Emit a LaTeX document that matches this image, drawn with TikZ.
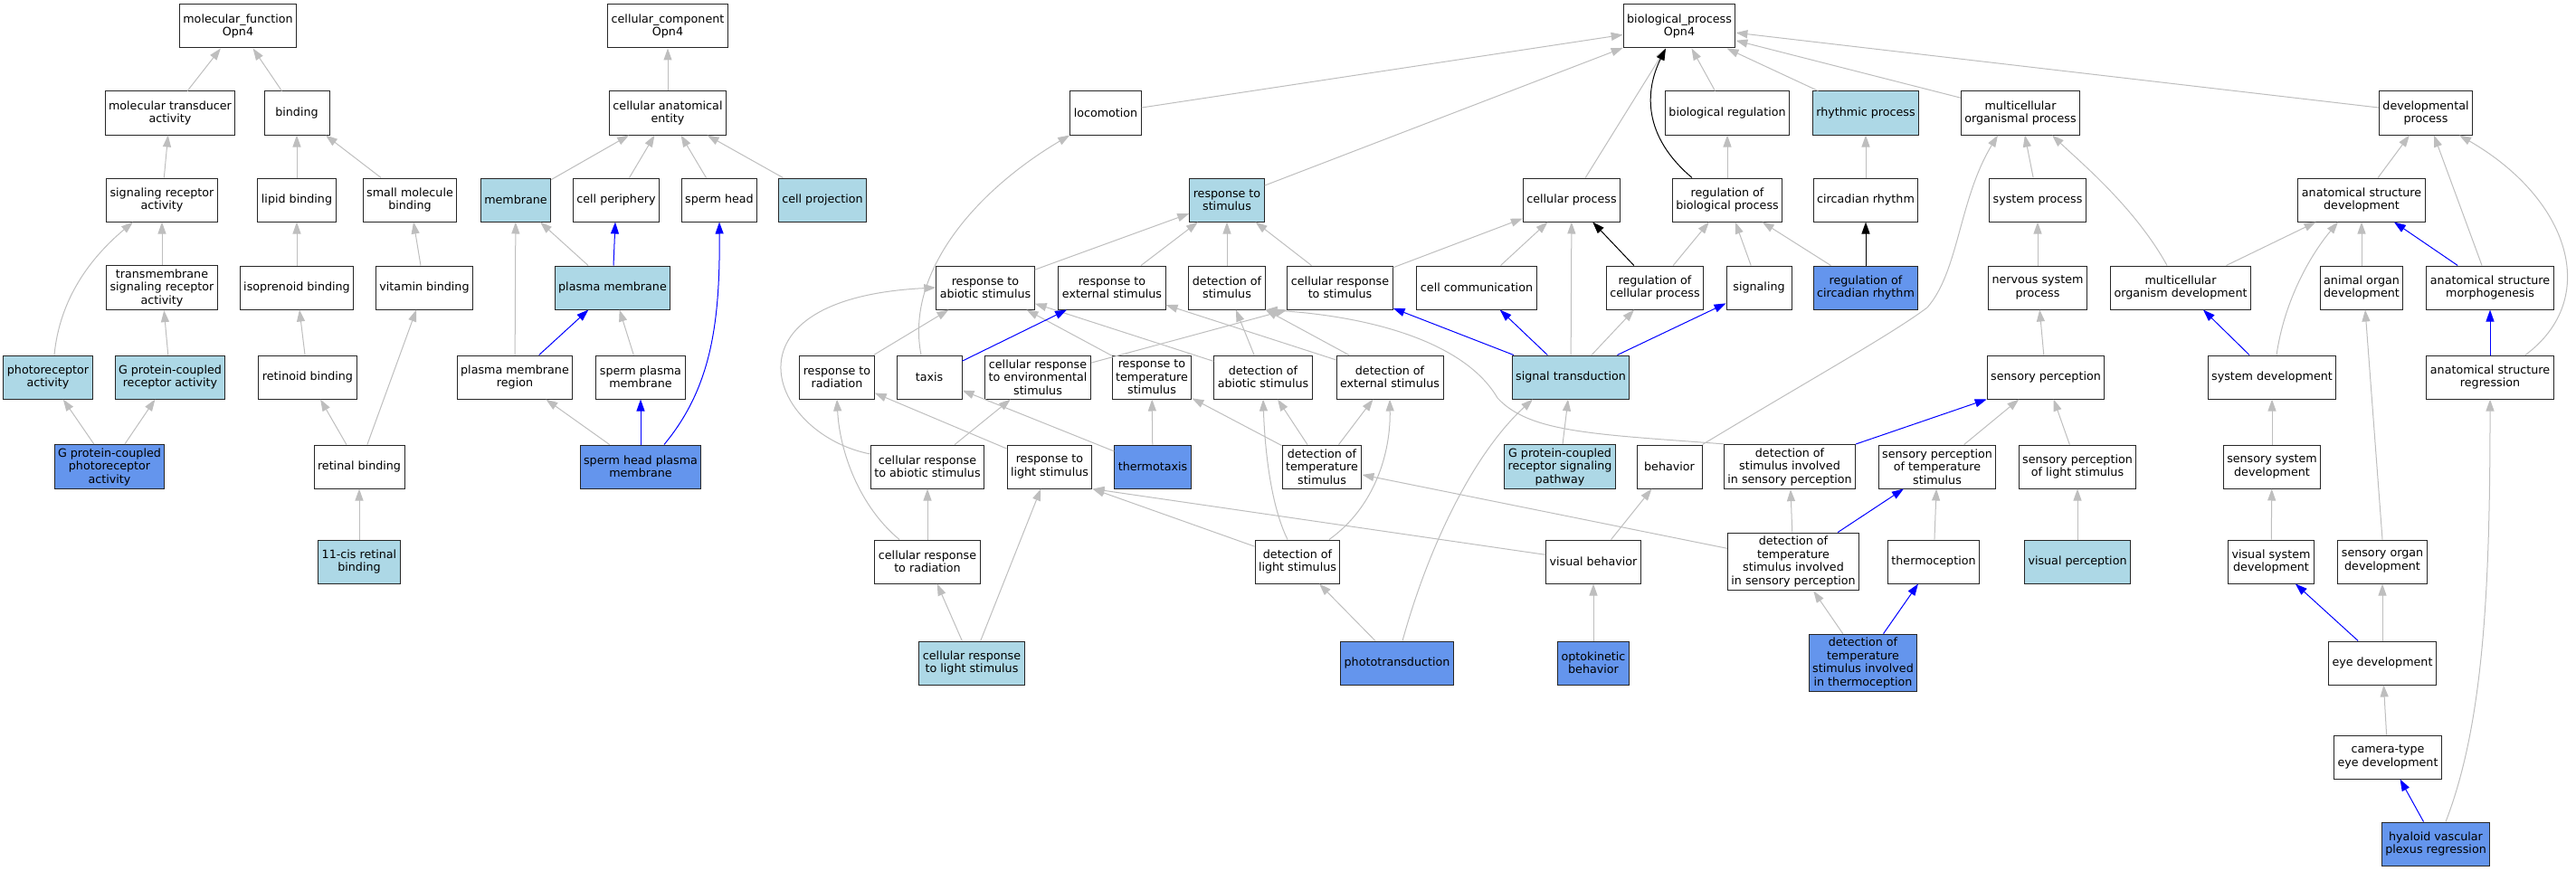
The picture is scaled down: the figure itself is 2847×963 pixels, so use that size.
\documentclass[tikz,border=0pt]{standalone}
\usepackage{fontspec}
\setmainfont{DejaVu Sans}
\usepackage{tikz}
\usetikzlibrary{arrows.meta}

\definecolor{litblue}{HTML}{ADD8E6}
\definecolor{leafblue}{HTML}{6495ED}
\definecolor{isagray}{HTML}{BEBEBE}

\begin{document}
\begin{tikzpicture}[%
    x=1pt,
    y=-1pt,
    ->,
    >={Triangle[length=13pt,width=9pt]},
    term/.style={%
      rectangle,
      draw=black!85,
      line width=1pt,
      fill=white,
      minimum width=72pt,
      minimum height=48pt,
      inner xsep=4pt,
      inner ysep=4pt,
      align=center,
      font=\fontsize{12.7}{14.5}\selectfont
    },
    lit/.style={term, fill=litblue},
    leaf/.style={term, fill=leafblue},
    isa/.style={draw=isagray, line width=1pt},
    partof/.style={draw=blue, line width=1pt},
    regulates/.style={draw=black, line width=1pt}
  ]
  \useasboundingbox (0,0) rectangle (2847,963);
  % Nodes: molecular function
    \node[term] (mf)       at (263,29)  {molecular\_function\\Opn4};
    \node[term] (mta)      at (188,125) {molecular transducer\\activity};
    \node[term] (bind)     at (328,125) {binding};
    \node[term] (sra)      at (179,221) {signaling receptor\\activity};
    \node[term] (lipid)    at (328,221) {lipid binding};
    \node[term] (smb)      at (453,221) {small molecule\\binding};
    \node[term] (tmsra)    at (179,318) {transmembrane\\signaling receptor\\activity};
    \node[term] (isop)     at (328,318) {isoprenoid binding};
    \node[term] (vitb)     at (469,318) {vitamin binding};
    \node[lit]  (photo)    at (53,417)  {photoreceptor\\activity};
    \node[lit]  (gpcra)    at (188,417) {G protein-coupled\\receptor activity};
    \node[term] (retinoid) at (340,417) {retinoid binding};
    \node[leaf] (gpcpa)    at (121,516) {G protein-coupled\\photoreceptor\\activity};
    \node[term] (retinal)  at (397,516) {retinal binding};
    \node[lit]  (cis)      at (397,621) {11-cis retinal\\binding};
  % Nodes: cellular component
    \node[term] (cc)        at (738,29)  {cellular\_component\\Opn4};
    \node[term] (cae)       at (738,125) {cellular anatomical\\entity};
    \node[lit]  (membrane)  at (570,221) {membrane};
    \node[term] (cellper)   at (681,221) {cell periphery};
    \node[term] (spermhead) at (795,221) {sperm head};
    \node[lit]  (cellproj)  at (909,221) {cell projection};
    \node[lit]  (pm)        at (677,318) {plasma membrane};
    \node[term] (pmr)       at (569,417) {plasma membrane\\region};
    \node[term] (spm)       at (708,417) {sperm plasma\\membrane};
    \node[leaf] (shpm)      at (708,516) {sperm head plasma\\membrane};
  % Nodes: biological process
    \node[term] (bp)         at (1856,29)  {biological\_process\\Opn4};
    \node[term] (loco)       at (1222,125) {locomotion};
    \node[term] (bioreg)     at (1909,125) {biological regulation};
    \node[lit]  (rhythm)     at (2062,125) {rhythmic process};
    \node[term] (mop)        at (2233,125) {multicellular\\organismal process};
    \node[term] (devproc)    at (2681,125) {developmental\\process};
    \node[lit]  (respstim)   at (1356,221) {response to\\stimulus};
    \node[term] (cellproc)   at (1737,221) {cellular process};
    \node[term] (regbp)      at (1909,221) {regulation of\\biological process};
    \node[term] (circ)       at (2062,221) {circadian rhythm};
    \node[term] (sysproc)    at (2252,221) {system process};
    \node[term] (asd)        at (2610,221) {anatomical structure\\development};
    \node[term] (rabio)      at (1089,318) {response to\\abiotic stimulus};
    \node[term] (rext)       at (1229,318) {response to\\external stimulus};
    \node[term] (detstim)    at (1356,318) {detection of\\stimulus};
    \node[term] (crstim)     at (1481,318) {cellular response\\to stimulus};
    \node[term] (cellcomm)   at (1632,318) {cell communication};
    \node[term] (regcp)      at (1829,318) {regulation of\\cellular process};
    \node[term] (signaling)  at (1944,318) {signaling};
    \node[leaf] (regcirc)    at (2062,318) {regulation of\\circadian rhythm};
    \node[term] (nsp)        at (2252,318) {nervous system\\process};
    \node[term] (mod)        at (2410,318) {multicellular\\organism development};
    \node[term] (aod)        at (2610,318) {animal organ\\development};
    \node[term] (asm)        at (2752,318) {anatomical structure\\morphogenesis};
    \node[term] (rrad)       at (925,417)  {response to\\radiation};
    \node[term] (taxis)      at (1027,417) {taxis};
    \node[term] (crenv)      at (1147,417) {cellular response\\to environmental\\stimulus};
    \node[term] (rtemp)      at (1273,417) {response to\\temperature\\stimulus};
    \node[term] (detabio)    at (1396,417) {detection of\\abiotic stimulus};
    \node[term] (detext)     at (1536,417) {detection of\\external stimulus};
    \node[lit]  (sigtrans)   at (1736,417) {signal transduction};
    \node[term] (sensperc)   at (2261,417) {sensory perception};
    \node[term] (sysdev)     at (2511,417) {system development};
    \node[term] (asr)        at (2752,417) {anatomical structure\\regression};
    \node[term] (crabio)     at (1025,516) {cellular response\\to abiotic stimulus};
    \node[term] (rlight)     at (1160,516) {response to\\light stimulus};
    \node[leaf] (thermotaxis) at (1274,516) {thermotaxis};
    \node[term] (dettemp)    at (1461,516) {detection of\\temperature\\stimulus};
    \node[lit]  (gpcrsp)     at (1724,516) {G protein-coupled\\receptor signaling\\pathway};
    \node[term] (behavior)   at (1845,516) {behavior};
    \node[term] (dsisp)      at (1978,516) {detection of\\stimulus involved\\in sensory perception};
    \node[term] (sptemp)     at (2141,516) {sensory perception\\of temperature\\stimulus};
    \node[term] (splight)    at (2296,516) {sensory perception\\of light stimulus};
    \node[term] (ssd)        at (2511,516) {sensory system\\development};
    \node[term] (crrad)      at (1025,621) {cellular response\\to radiation};
    \node[term] (detlight)   at (1434,621) {detection of\\light stimulus};
    \node[term] (visbeh)     at (1761,621) {visual behavior};
    \node[term] (dtsisp)     at (1982,621) {detection of\\temperature\\stimulus involved\\in sensory perception};
    \node[term] (thermocep)  at (2137,621) {thermoception};
    \node[lit]  (visperc)    at (2296,621) {visual perception};
    \node[term] (vsd)        at (2510,621) {visual system\\development};
    \node[term] (sod)        at (2633,621) {sensory organ\\development};
    \node[lit]  (crlight)    at (1074,733) {cellular response\\to light stimulus};
    \node[leaf] (phototrans) at (1544,733) {phototransduction};
    \node[leaf] (okb)        at (1761,733) {optokinetic\\behavior};
    \node[leaf] (dtsit)      at (2059,733) {detection of\\temperature\\stimulus involved\\in thermoception};
    \node[term] (eyedev)     at (2633,733) {eye development};
    \node[term] (camera)     at (2639,837) {camera-type\\eye development};
    \node[leaf] (hyaloid)    at (2692,933) {hyaloid vascular\\plexus regression};
  % Paths: is_a
    \path (mta)      edge[isa] (mf)
          (bind)     edge[isa] (mf)
          (sra)      edge[isa] (mta)
          (lipid)    edge[isa] (bind)
          (smb)      edge[isa] (bind)
          (tmsra)    edge[isa] (sra)
          (gpcra)    edge[isa] (tmsra)
          (isop)     edge[isa] (lipid)
          (vitb)     edge[isa] (smb)
          (retinoid) edge[isa] (isop)
          (gpcpa)    edge[isa] (photo)
          (gpcpa)    edge[isa] (gpcra)
          (retinal)  edge[isa] (retinoid)
          (retinal)  edge[isa] (vitb)
          (cis)      edge[isa] (retinal);
    \draw[isa] ([xshift=7pt]photo.north) .. controls (66,330) and (100,285) .. ([xshift=-32pt]sra.south);
    \path (cae)       edge[isa] (cc)
          (membrane)  edge[isa] (cae)
          (cellper)   edge[isa] (cae)
          (spermhead) edge[isa] (cae)
          (cellproj)  edge[isa] (cae)
          (pm)        edge[isa] (membrane)
          (pmr)       edge[isa] (membrane)
          (spm)       edge[isa] (pm)
          (shpm)      edge[isa] (pmr);
    \path (loco)      edge[isa] (bp)
          (respstim)  edge[isa] (bp)
          (cellproc)  edge[isa] ([xshift=-15pt]bp.south)
          (bioreg)    edge[isa] (bp)
          (rhythm)    edge[isa] (bp)
          (mop)       edge[isa] (bp)
          (devproc)   edge[isa] (bp)
          (regbp)     edge[isa] (bioreg)
          (circ)      edge[isa] (rhythm)
          (sysproc)   edge[isa] (mop)
          (asd)       edge[isa] (devproc)
          (rabio)     edge[isa] (respstim)
          (rext)      edge[isa] (respstim)
          (detstim)   edge[isa] (respstim)
          (crstim)    edge[isa] (respstim)
          (crstim)    edge[isa] (cellproc)
          (cellcomm)  edge[isa] (cellproc)
          (sigtrans)  edge[isa] (cellproc)
          (regcp)     edge[isa] (regbp)
          (signaling) edge[isa] (regbp)
          (regcirc)   edge[isa] (regbp)
          (nsp)       edge[isa] (sysproc)
          (mod)       edge[isa] (asd)
          (aod)       edge[isa] (asd)
          (asm)       edge[isa] (devproc)
          (rrad)      edge[isa] (rabio)
          (rtemp)     edge[isa] (rabio)
          (detabio)   edge[isa] (rabio)
          (detabio)   edge[isa] (detstim)
          (detext)    edge[isa] (detstim.south east)
          (detext)    edge[isa] (rext)
          (crenv)     edge[isa] (crstim.south west)
          (sigtrans)  edge[isa] (regcp)
          (sensperc)  edge[isa] (nsp)
          (thermotaxis) edge[isa] (taxis)
          (thermotaxis) edge[isa] (rtemp)
          (crabio)    edge[isa] (crenv)
          (rlight)    edge[isa] (rrad)
          (dettemp)   edge[isa] (rtemp)
          (dettemp)   edge[isa] (detabio)
          (dettemp)   edge[isa] (detext)
          (gpcrsp)    edge[isa] (sigtrans)
          (sptemp)    edge[isa] (sensperc)
          (splight)   edge[isa] (sensperc)
          (ssd)       edge[isa] (sysdev)
          (crrad)     edge[isa] (crabio)
          (detlight)  edge[isa] (rlight.south east)
          (visbeh)    edge[isa] (rlight.south east)
          (visbeh)    edge[isa] (behavior)
          (dtsisp)    edge[isa] (dettemp)
          (dtsisp)    edge[isa] (dsisp)
          (thermocep) edge[isa] (sptemp)
          (visperc)   edge[isa] (splight)
          (vsd)       edge[isa] (ssd)
          (sod.north) edge[isa] ([xshift=4pt]aod.south)
          (crlight)   edge[isa] (crrad)
          (crlight)   edge[isa] (rlight)
          (phototrans) edge[isa] (detlight)
          (okb)       edge[isa] (visbeh)
          (dtsit)     edge[isa] (dtsisp)
          (eyedev)    edge[isa] (sod)
          (camera)    edge[isa] (eyedev);
    \draw[isa] ([xshift=-9pt]taxis.north) .. controls (1000,300) and (1080,210) .. (loco.south west);
    \draw[isa] ([yshift=14pt]crabio.west) .. controls (850,480) and (790,330) .. (rabio.west);
    \draw[isa] ([xshift=-31pt]crrad.north) .. controls (950,560) and (928,500) .. (rrad.south);
    \draw[isa] ([xshift=35pt]detlight.north) .. controls (1520,560) and (1537,500) .. (detext.south);
    \draw[isa] ([xshift=-11pt]detlight.north) .. controls (1405,560) and (1398,500) .. (detabio.south);
    \draw[isa] (dsisp.north west) .. controls (1760,480) and (1690,478) .. (1655,440)
                                  .. controls (1620,380) and (1520,350) .. (detstim.south east);
    \draw[isa] ([xshift=6pt]phototrans.north) .. controls (1580,600) and (1630,500) .. ([xshift=-42pt]sigtrans.south);
    \draw[isa] (behavior.north east) .. controls (2000,420) and (2090,370) .. (2130,340)
                                     .. controls (2165,300) and (2165,220) .. ([xshift=-25pt]mop.south);
    \draw[isa] ([xshift=-15pt]mod.north) .. controls (2360,230) and (2300,180) .. ([xshift=35pt]mop.south);
    \draw[isa] ([xshift=5pt]sysdev.north) .. controls (2525,330) and (2555,280) .. ([xshift=-26pt]asd.south);
    \draw[isa] ([xshift=39pt]asr.north) .. controls (2875,330) and (2840,220) .. ([xshift=37pt]devproc.south);
    \draw[isa] ([xshift=11pt]hyaloid.north) .. controls (2745,800) and (2752,650) .. (asr.south);
  % Paths: part_of
    \path (pm)       edge[partof] (cellper)
          (pmr)      edge[partof] (pm)
          (shpm)     edge[partof] (spm)
          (taxis)    edge[partof] (rext)
          (sigtrans) edge[partof] (crstim)
          (sigtrans) edge[partof] (cellcomm)
          (sigtrans) edge[partof] (signaling)
          (asm)      edge[partof] (asd)
          (sysdev)   edge[partof] (mod)
          (asr)      edge[partof] (asm)
          (dsisp)    edge[partof] (sensperc.south west)
          (dtsisp)   edge[partof] (sptemp)
          (dtsit)    edge[partof] (thermocep)
          (eyedev)   edge[partof] (vsd)
          (hyaloid)  edge[partof] (camera);
    \draw[partof] ([xshift=26pt]shpm.north) .. controls (785,430) and (796,360) .. (spermhead.south);
  % Paths: regulates
    \path (regcp)   edge[regulates] (cellproc)
          (regcirc) edge[regulates] (circ);
    \draw[regulates] ([xshift=-39pt]regbp.north) .. controls (1815,150) and (1818,100) .. ([xshift=-15pt]bp.south);
\end{tikzpicture}
\end{document}
